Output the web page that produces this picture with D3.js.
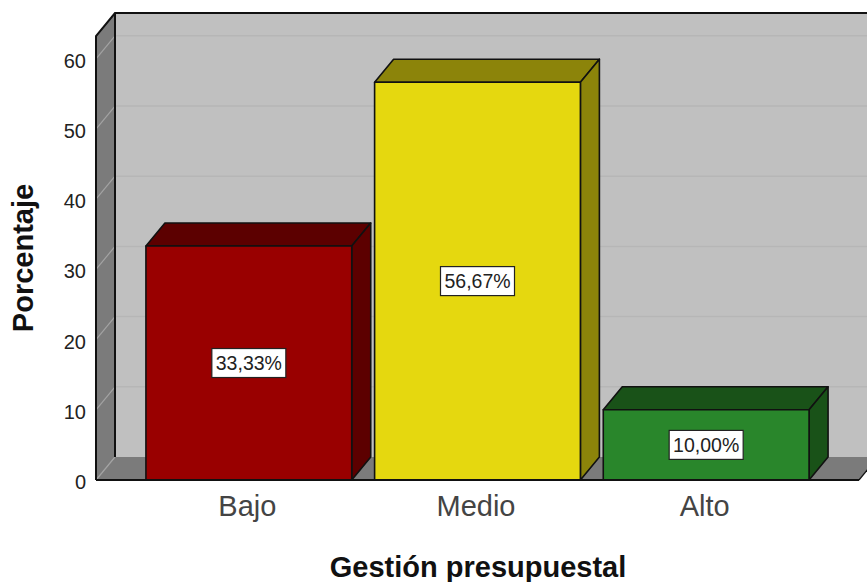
<!DOCTYPE html>
<html>
<head>
<meta charset="utf-8">
<script src="https://cdn.jsdelivr.net/npm/d3@7"></script>
<style>
  html, body { margin: 0; padding: 0; background: #fff; overflow: hidden; }
  svg { display: block; }
  text { font-family: "Liberation Sans", Arial, sans-serif; }
</style>
</head>
<body>
<script>
const categories = ["Bajo", "Medio", "Alto"]
const values = [33.33, 56.67, 10.00]
const valueLabels = ["33,33%", "56,67%", "10,00%"]
const frontColors = ["#990000", "#e5d80f", "#29862b"]
const sideColors = ["#5c0000", "#8c840a", "#195218"]
const yTicks = [0, 10, 20, 30, 40, 50, 60]

const width = 867
const height = 582
const dx = 19, dy = -23   // depth of the 3d box

const svg = d3.select("body").append("svg")
  .attr("width", width)
  .attr("height", height)

const plotLeft = 96, plotRight = 859
const plotBottom = 480, plotTop = 36

const y = d3.scaleLinear().domain([0, 63.25]).range([plotBottom, plotTop])
const x = d3.scaleBand().domain(categories)
  .range([134.5, 820.5]).paddingInner(0.1).paddingOuter(0.05)

const poly = pts => "M" + pts.map(p => p.join(",")).join("L") + "Z"

// back wall
svg.append("path")
  .attr("d", poly([[plotLeft+dx, plotTop+dy], [width, plotTop+dy], [width, plotBottom+dy], [plotLeft+dx, plotBottom+dy]]))
  .attr("fill", "#c0c0c0")

// side wall and floor
svg.append("path")
  .attr("d", poly([[plotLeft, plotTop], [plotLeft+dx, plotTop+dy], [plotLeft+dx, plotBottom+dy], [plotLeft, plotBottom]]))
  .attr("fill", "#7b7b7b")
svg.append("path")
  .attr("d", poly([[plotLeft, plotBottom], [plotLeft+dx, plotBottom+dy], [plotRight+dx, plotBottom+dy], [plotRight, plotBottom]]))
  .attr("fill", "#7b7b7b")

// grid lines
const grid = svg.append("g")
grid.selectAll(".back").data(yTicks.slice(1)).enter().append("line")
  .attr("x1", plotLeft+dx).attr("x2", width)
  .attr("y1", d => y(d)+dy).attr("y2", d => y(d)+dy)
  .attr("stroke", "#b6b6b6").attr("stroke-width", 1.5)
grid.selectAll(".side").data(yTicks).enter().append("line")
  .attr("x1", plotLeft).attr("x2", plotLeft+dx)
  .attr("y1", d => y(d)).attr("y2", d => y(d)+dy)
  .attr("stroke", "#a3a3a3").attr("stroke-width", 1.2)

// wall outlines
svg.append("path")
  .attr("d", `M${plotLeft},${plotBottom}L${plotLeft},${plotTop}L${plotLeft+dx},${plotTop+dy}L${width},${plotTop+dy}M${plotLeft+dx},${plotTop+dy}L${plotLeft+dx},${plotBottom+dy}`)
  .attr("fill", "none").attr("stroke", "#111").attr("stroke-width", 2)

// bars
const bars = svg.selectAll(".bar").data(categories).enter().append("g").attr("class", "bar")
bars.append("path")
  .attr("d", (d, i) => {
    const x0 = x(d), x1 = x0 + x.bandwidth(), yt = y(values[i])
    return poly([[x0, yt], [x0+dx, yt+dy], [x1+dx, yt+dy], [x1, yt]])
  })
  .attr("fill", (d, i) => sideColors[i])
bars.append("path")
  .attr("d", (d, i) => {
    const x1 = x(d) + x.bandwidth(), yt = y(values[i])
    return poly([[x1, yt], [x1+dx, yt+dy], [x1+dx, y(0)+dy], [x1, y(0)]])
  })
  .attr("fill", (d, i) => sideColors[i])
bars.append("rect")
  .attr("x", d => x(d))
  .attr("y", (d, i) => y(values[i]))
  .attr("width", x.bandwidth())
  .attr("height", (d, i) => y(0) - y(values[i]))
  .attr("fill", (d, i) => frontColors[i])
bars.selectAll("path, rect")
  .attr("stroke", "#111").attr("stroke-width", 1.6).attr("stroke-linejoin", "round")

// baseline
svg.append("line")
  .attr("x1", plotLeft).attr("x2", plotRight).attr("y1", plotBottom).attr("y2", plotBottom)
  .attr("stroke", "#111").attr("stroke-width", 2)
svg.append("line")
  .attr("x1", plotRight).attr("x2", plotRight+dx).attr("y1", plotBottom).attr("y2", plotBottom+dy)
  .attr("stroke", "#111").attr("stroke-width", 1.2)

// value labels
const boxW = 74, boxH = 29
const labels = svg.selectAll(".val").data(categories).enter().append("g").attr("class", "val")
  .attr("transform", (d, i) => `translate(${x(d)+x.bandwidth()/2},${(y(0)+y(values[i]))/2})`)
labels.append("rect")
  .attr("x", -boxW/2).attr("y", -boxH/2).attr("width", boxW).attr("height", boxH)
  .attr("fill", "#fff").attr("stroke", "#222").attr("stroke-width", 1.2)
labels.append("text")
  .attr("text-anchor", "middle").attr("dy", "0.36em")
  .attr("font-size", 19.5).attr("fill", "#222")
  .text((d, i) => valueLabels[i])

// axes
const yAxis = d3.axisLeft(y).tickValues(yTicks).tickSize(0).tickPadding(10)
const gy = svg.append("g").attr("transform", `translate(${plotLeft},2)`).call(yAxis)
gy.select(".domain").remove()
gy.selectAll("text").attr("font-size", 20).attr("fill", "#222")
  .style("font-family", '"Liberation Sans", Arial, sans-serif')

const xAxis = d3.axisBottom(x).tickSize(0).tickPadding(15)
const gx = svg.append("g").attr("transform", `translate(-1.5,${plotBottom})`).call(xAxis)
gx.select(".domain").remove()
gx.selectAll("text").attr("font-size", 29).attr("fill", "#444")
  .style("font-family", '"Liberation Sans", Arial, sans-serif')

svg.append("text")
  .attr("x", 478).attr("y", 577).attr("text-anchor", "middle")
  .attr("font-size", 29).attr("font-weight", "bold").attr("fill", "#111")
  .text("Gestión presupuestal")
svg.append("text")
  .attr("transform", "translate(33,258) rotate(-90)").attr("text-anchor", "middle")
  .attr("font-size", 29).attr("font-weight", "bold").attr("fill", "#111")
  .text("Porcentaje")
</script>
</body>
</html>
